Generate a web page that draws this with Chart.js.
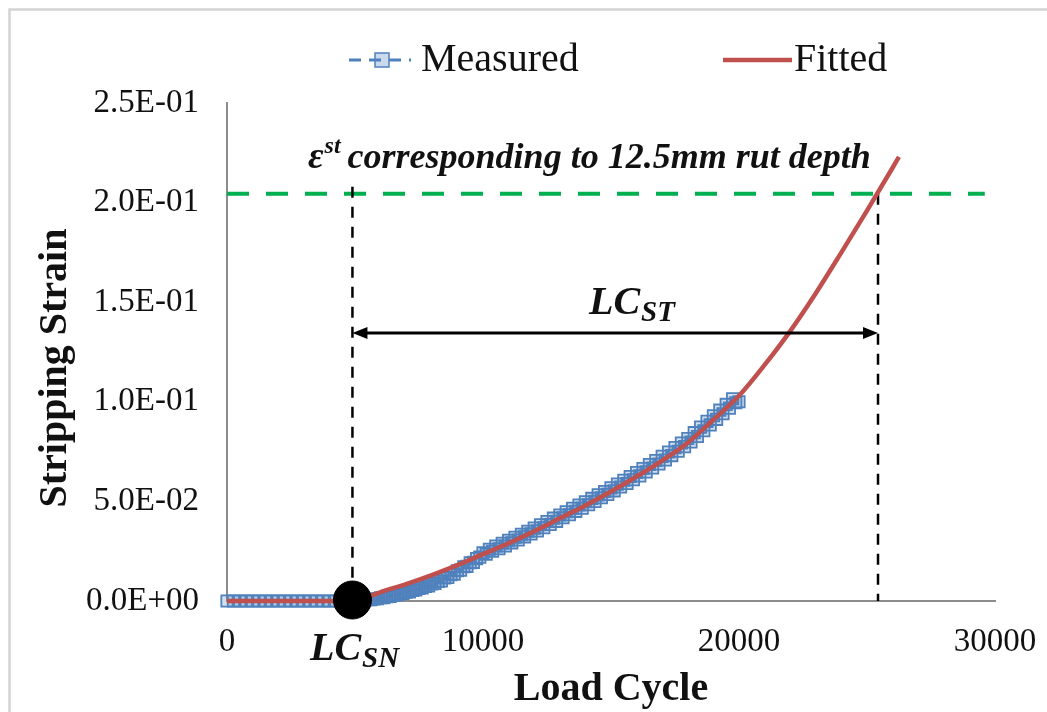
<!DOCTYPE html>
<html><head><meta charset="utf-8">
<script src="https://cdn.jsdelivr.net/npm/chart.js@4.4.0/dist/chart.umd.min.js"></script>
<style>html,body{margin:0;padding:0;background:#fff;}#wrap{width:1047px;height:712px;}</style>
</head><body><div id="wrap"><canvas id="c" width="1047" height="712"></canvas></div>
<script>
// ---------------- data ----------------
const measuredCycles = [0,250,500,750,1000,1250,1500,1750,2000,2250,2500,2750,3000,3250,3500,3750,4000,4250,4500,4750,
  5000,5125,5250,5375,5500,5625,5750,5875,6000,6125,6250,6375,6500,6625,6750,6875,
  7000,7125,7250,7375,7500,7625,7750,7875,8000,8125,8250,8375,8500,8625,8750,8875,
  9000,9125,9250,9375,9500,9625,9750,9875,10000,10125,10250,10375,10500,10625,10750,10875,
  11000,11125,11250,11375,11500,11625,11750,11875,12000,12125,12250,12375,12500,12625,12750,12875,
  13000,13125,13250,13375,13500,13625,13750,13875,14000,14125,14250,14375,14500,14625,14750,14875,
  15000,15125,15250,15375,15500,15625,15750,15875,16000,16125,16250,16375,16500,16625,16750,16875,
  17000,17125,17250,17375,17500,17625,17750,17875,18000,18125,18250,18375,18500,18625,18750,18875,
  19000,19125,19250,19375,19500,19625,19750,19875,20000];
const measuredStrain = [0,0,0,0,0,0,0,0,0,0,0,0,0,0,0,0,0,0,0,0,
  0.0000,0.0001,0.0003,0.0002,0.0006,0.0006,0.0010,0.0011,0.0016,0.0017,0.0022,0.0023,0.0029,0.0030,0.0036,0.0038,
  0.0044,0.0046,0.0053,0.0055,0.0063,0.0065,0.0073,0.0076,0.0085,0.0088,0.0098,0.0101,0.0116,0.0118,0.0132,0.0135,
  0.0152,0.0155,0.0172,0.0174,0.0192,0.0194,0.0213,0.0220,0.0242,0.0235,0.0260,0.0250,0.0276,0.0262,0.0290,0.0276,
  0.0305,0.0292,0.0320,0.0306,0.0335,0.0322,0.0350,0.0337,0.0366,0.0352,0.0383,0.0368,0.0399,0.0384,0.0416,0.0400,
  0.0432,0.0418,0.0448,0.0433,0.0465,0.0450,0.0482,0.0466,0.0498,0.0483,0.0515,0.0500,0.0533,0.0518,0.0550,0.0535,
  0.0568,0.0553,0.0587,0.0572,0.0606,0.0590,0.0625,0.0609,0.0645,0.0628,0.0665,0.0648,0.0685,0.0668,0.0705,0.0688,
  0.0726,0.0708,0.0748,0.0730,0.0770,0.0752,0.0793,0.0775,0.0816,0.0798,0.0845,0.0826,0.0873,0.0855,0.0902,0.0884,
  0.0930,0.0912,0.0958,0.0940,0.0987,0.0968,0.1015,0.0995,0.1000];
const fittedCycles = [0,4900,5500,6000,7000,8000,9000,10000,11000,12000,13000,14000,15000,16000,17000,18000,19000,20000,21000,22000,23000,24000,25000,26000,26250];
const fittedStrain = [0,0,0.002,0.0045,0.0085,0.013,0.018,0.0235,0.029,0.035,0.0415,0.048,0.055,0.0625,0.0705,0.0795,0.091,0.103,0.1185,0.1355,0.1545,0.175,0.196,0.2175,0.223];
const xTicks = [0,10000,20000,30000];
const yTicks = [0,0.05,0.10,0.15,0.20,0.25];
const lcSN = 4900;          // stripping number
const lcEnd = 25430;        // load cycle at 12.5 mm rut depth
const strainLimit = 0.2045; // strain at 12.5 mm rut depth
const leftGuideTop = 0.208;
const greenEnd = 29600;
const arrowStrain = 0.1345;
const seriesNames = ['Measured','Fitted'];
const axisTitles = ['Load Cycle','Stripping Strain'];

// ---------------- styles ----------------
const BLUE = '#4F81BD', RED = '#C0504D', GREEN = '#00B050', TXT = '#111111';
const SERIF = '"Liberation Serif", "Times New Roman", serif';

function sci(v){
  const s = Number(v).toExponential(1);
  let [m, e] = s.split('e');
  const sign = e[0] === '-' ? '-' : '+';
  e = e.replace(/[+-]/,'');
  if (e.length < 2) e = '0' + e;
  return m + 'E' + sign + e;
}

const pts = (xs, ys) => xs.map((x,i)=>({x, y: ys[i]}));

const decor = {
  id: 'decor',
  beforeDraw(chart){
    const ctx = chart.ctx;
    ctx.save();
    ctx.strokeStyle = '#d4d4d4';
    ctx.lineWidth = 2.5;
    ctx.strokeRect(9.5, 9.5, 1200, 900);
    ctx.restore();
  },
  afterDatasetsDraw(chart){
    const ctx = chart.ctx;
    const xs = chart.scales.x, ys = chart.scales.y;
    ctx.save();
    // double arrow LC_ST
    const ay = ys.getPixelForValue(arrowStrain);
    const ax1 = xs.getPixelForValue(lcSN), ax2 = xs.getPixelForValue(lcEnd);
    ctx.strokeStyle = '#000'; ctx.fillStyle = '#000'; ctx.lineWidth = 3;
    ctx.beginPath(); ctx.moveTo(ax1 + 8, ay); ctx.lineTo(ax2 - 8, ay); ctx.stroke();
    const head = (xt, dir) => {
      ctx.beginPath(); ctx.moveTo(xt, ay); ctx.lineTo(xt + dir*15, ay - 6); ctx.lineTo(xt + dir*15, ay + 6); ctx.closePath(); ctx.fill();
    };
    head(ax1, 1); head(ax2, -1);

    ctx.fillStyle = TXT;
    ctx.textBaseline = 'alphabetic';
    ctx.textAlign = 'left';
    // epsilon text
    let tx = 308, tb = 168;
    ctx.font = 'bold italic 38px ' + SERIF;
    ctx.fillText('\u03B5', tx, tb); tx += ctx.measureText('\u03B5').width + 1;
    ctx.font = 'bold italic 24px ' + SERIF;
    ctx.fillText('st', tx, tb - 15); tx += ctx.measureText('st').width + 7;
    ctx.font = 'bold italic 36px ' + SERIF;
    ctx.fillText('corresponding to 12.5mm rut depth', tx, tb);

    // LC_ST / LC_SN
    const sub = (main, s, x, b, big, small) => {
      ctx.font = 'bold italic ' + big + 'px ' + SERIF;
      ctx.fillText(main, x, b);
      const w = ctx.measureText(main).width;
      ctx.font = 'bold italic ' + small + 'px ' + SERIF;
      ctx.fillText(s, x + w + 1, b + 7);
    };
    sub('LC', 'ST', 589, 314, 40, 29);
    sub('LC', 'SN', 310, 660, 40, 29);

    // y axis title
    ctx.save();
    ctx.translate(56, 368);
    ctx.rotate(-Math.PI/2);
    ctx.textAlign = 'center'; ctx.textBaseline = 'middle';
    ctx.font = 'bold 40px ' + SERIF;
    ctx.fillText(axisTitles[1], 0, 0);
    ctx.restore();

    // legend
    const ly = 60;
    ctx.lineWidth = 3; ctx.strokeStyle = BLUE;
    ctx.setLineDash([12,8]);
    ctx.beginPath(); ctx.moveTo(349, ly); ctx.lineTo(411, ly); ctx.stroke();
    ctx.setLineDash([]);
    ctx.fillStyle = 'rgba(79,129,189,0.3)';
    ctx.lineWidth = 1.5;
    ctx.fillRect(375, ly-7, 14, 14); ctx.strokeRect(375, ly-7, 14, 14);
    ctx.strokeStyle = RED; ctx.lineWidth = 4.5;
    ctx.beginPath(); ctx.moveTo(723, ly); ctx.lineTo(792, ly); ctx.stroke();
    ctx.fillStyle = TXT; ctx.textBaseline = 'middle'; ctx.textAlign = 'left';
    ctx.font = '40px ' + SERIF;
    ctx.fillText(seriesNames[0], 421, ly);
    ctx.fillText(seriesNames[1], 794, ly);
    ctx.restore();
  }
};

new Chart(document.getElementById('c'), {
  type: 'scatter',
  data: {
    datasets: [
      { label: 'LCSN', data: [{x: lcSN, y: 0.0005}], pointRadius: 19, pointHoverRadius: 19,
        pointBackgroundColor: '#000', pointBorderColor: '#000', showLine: false, order: -2, clip: false },
      { label: seriesNames[1], data: pts(fittedCycles, fittedStrain), showLine: true, borderColor: RED, borderWidth: 4.5,
        pointRadius: 0, cubicInterpolationMode: 'monotone', order: 0, clip: false },
      { label: seriesNames[0], data: pts(measuredCycles, measuredStrain), showLine: true, borderColor: BLUE, borderWidth: 2,
        borderDash: [6,4], pointStyle: 'rect', pointRadius: 8, pointBorderWidth: 1.8,
        pointBorderColor: BLUE, pointBackgroundColor: 'rgba(79,129,189,0.25)', order: 1, clip: false },
      { label: 'limit', data: [{x: 0, y: strainLimit}, {x: greenEnd, y: strainLimit}], showLine: true,
        borderColor: GREEN, borderWidth: 4, borderDash: [22,17], pointRadius: 0, order: 3 },
      { label: 'g1', data: [{x: lcSN, y: leftGuideTop}, {x: lcSN, y: 0}], showLine: true,
        borderColor: '#000', borderWidth: 2.5, borderDash: [11,9], pointRadius: 0, order: 2 },
      { label: 'g2', data: [{x: lcEnd, y: strainLimit}, {x: lcEnd, y: 0}], showLine: true,
        borderColor: '#000', borderWidth: 2.5, borderDash: [11,9], pointRadius: 0, order: 2 }
    ]
  },
  options: {
    responsive: false, animation: false, devicePixelRatio: 1,
    layout: { padding: { top: 103, right: 52, left: 0, bottom: 0 } },
    plugins: { legend: { display: false }, tooltip: { enabled: false } },
    scales: {
      x: {
        type: 'linear', min: 0, max: 30000,
        afterBuildTicks: s => { s.ticks = xTicks.map(v => ({value: v})); },
        afterFit: s => { s.height = 111; s.paddingLeft = 0; s.paddingRight = 0; },
        grid: { display: false, drawTicks: false },
        border: { display: true, color: '#8c8c8c', width: 2 },
        ticks: { padding: 22, color: TXT, font: { family: SERIF, size: 33 }, maxRotation: 0, callback: v => String(v) },
        title: { display: true, text: axisTitles[0], color: TXT, font: { family: SERIF, size: 40, weight: 'bold' }, padding: { top: 0, bottom: -2 } }
      },
      y: {
        type: 'linear', min: 0, max: 0.25,
        afterBuildTicks: s => { s.ticks = yTicks.map(v => ({value: v})); },
        afterFit: s => { s.width = 227; s.paddingTop = 0; s.paddingBottom = 0; },
        grid: { display: false, drawTicks: false },
        border: { display: true, color: '#8c8c8c', width: 2 },
        ticks: { padding: 28, color: TXT, font: { family: SERIF, size: 33 }, callback: v => sci(v) },
        title: { display: false }
      }
    }
  },
  plugins: [decor]
});
</script></body></html>
